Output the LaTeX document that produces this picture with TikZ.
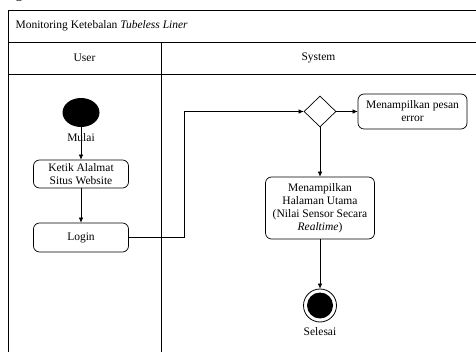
\documentclass[tikz,border=0pt]{standalone}
\usepackage{fontspec}
\setmainfont{Liberation Serif}
\usetikzlibrary{arrows.meta,shapes.geometric}
\begin{document}
\begin{tikzpicture}[x=1pt,y=-1pt,
  every node/.style={font=\fontsize{11.5}{13}\selectfont},
  act/.style={draw, rounded corners=6pt, align=center, inner sep=0pt, line width=0.7pt},
  flow/.style={draw, line width=0.6pt, -{Latex[length=5pt,width=4.5pt]}},
  lane/.style={draw, line width=0.9pt}]
\useasboundingbox (0,0) rectangle (476,352);
% tail of the caption line above the frame
\node[anchor=base west, inner sep=0pt, font=\fontsize{14}{16}\selectfont] (captail) at (15.5,-1.5) {g};
% swimlane frame
\draw[lane] (480,10) -- (8,10) -- (8,356);
\draw[lane] (8,42) -- (480,42);
\draw[lane] (8,74) -- (480,74);
\draw[lane] (161,42) -- (161,356);
\node[anchor=west] (title) at (12,26) {Monitoring Ketebalan \textit{Tubeless Liner}};
\node (user) at (84.5,58) {User};
\node (system) at (318.5,58) {System};
% user lane
\node[ellipse, fill=black, minimum width=37, minimum height=29, inner sep=0pt] (start) at (81,112.5) {};
\node (mulai) at (81,138) {Mulai};
\node[act, minimum width=95, minimum height=28] (ketik) at (81,174) {Ketik Alalmat\\Situs Website};
\node[act, minimum width=95, minimum height=29] (login) at (81,237.5) {Login};
% system lane
\node[diamond, draw, line width=0.7pt, minimum width=32, minimum height=31, inner sep=0pt] (dec) at (320,111.5) {};
\node[act, minimum width=109, minimum height=35] (error) at (412.5,111.5) {Menampilkan pesan\\error};
\node[act, minimum width=109, minimum height=62] (main) at (320,208) {Menampilkan\\Halaman Utama\\(Nilai Sensor Secara\\\textit{Realtime})};
\node[circle, draw, line width=0.8pt, minimum size=33, inner sep=0pt] (end) at (320,305.5) {};
\node[circle, fill=black, minimum size=26, inner sep=0pt] (endcore) at (end) {};
\node (selesai) at (320,331.5) {Selesai};
% flows
\draw[flow] (start.south) -- (ketik.north);
\draw[flow] (ketik) -- (login);
\draw[flow] (login.east) -- ++(55,0) |- (dec.west);
\draw[flow] (dec) -- (error);
\draw[flow] (dec) -- (main);
\draw[flow] (main) -- (end);
\end{tikzpicture}
\end{document}
